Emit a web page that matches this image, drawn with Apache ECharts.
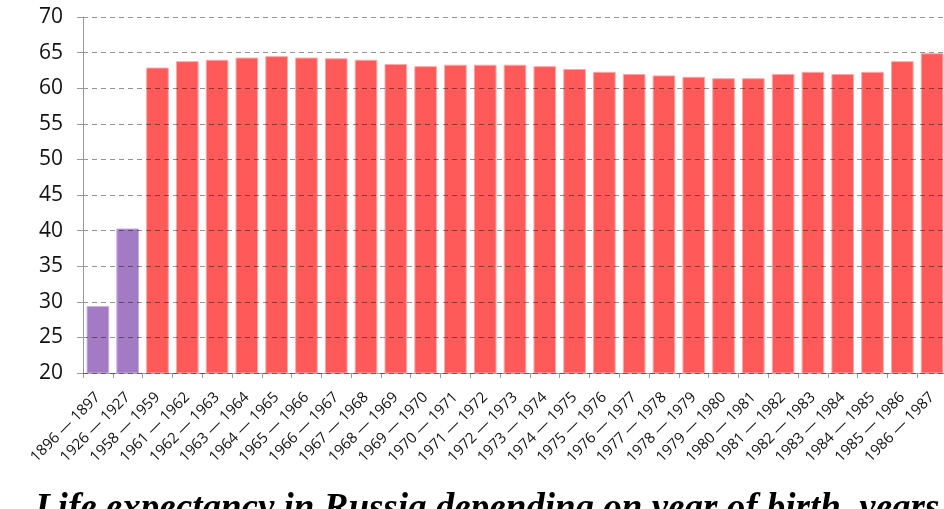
<!DOCTYPE html>
<html>
<head>
<meta charset="utf-8">
<script src="https://cdn.jsdelivr.net/npm/echarts@6/dist/echarts.min.js"></script>
<style>
  html, body { margin: 0; padding: 0; background: #fff; overflow: hidden; }
  #chart { width: 960px; height: 509px; }
</style>
</head>
<body>
<div id="chart"></div>
<script>
var periods = ['1896 — 1897', '1926 — 1927', '1958 — 1959', '1961 — 1962', '1962 — 1963',
    '1963 — 1964', '1964 — 1965', '1965 — 1966', '1966 — 1967', '1967 — 1968',
    '1968 — 1969', '1969 — 1970', '1970 — 1971', '1971 — 1972', '1972 — 1973',
    '1973 — 1974', '1974 — 1975', '1975 — 1976', '1976 — 1977', '1977 — 1978',
    '1978 — 1979', '1979 — 1980', '1980 — 1981', '1981 — 1982', '1982 — 1983',
    '1983 — 1984', '1984 — 1985', '1985 — 1986', '1986 — 1987'];
var lifeYears = [29.4, 40.3, 62.9, 63.8, 64.0,
    64.3, 64.5, 64.3, 64.2, 64.0,
    63.4, 63.1, 63.3, 63.3, 63.3,
    63.1, 62.7, 62.3, 62.0, 61.8,
    61.6, 61.4, 61.4, 62.0, 62.3,
    62.0, 62.3, 63.8, 64.9];
// the two earliest censuses are drawn in purple
var oldPeriods = ['1896 — 1897', '1926 — 1927'];
var yTicks = { min: 20, max: 70, step: 5 };

var barData = [];
for (var i = 0; i < periods.length; i++) {
    var old = oldPeriods.indexOf(periods[i]) >= 0;
    barData.push({
        value: lifeYears[i],
        itemStyle: {
            color: old ? '#a27bc4' : '#ff5a5a',
            borderColor: old ? '#c7aee0' : '#ffa8a8',
            borderWidth: 1
        }
    });
}

var option = {
    animation: false,
    title: {
        text: 'Life expectancy in Russia depending on year of birth, years',
        left: 30,
        top: 486,
        textStyle: {
            fontFamily: 'Liberation Serif',
            fontStyle: 'italic',
            fontWeight: 'bold',
            fontSize: 37,
            color: '#000'
        }
    },
    grid: {
        left: 83,
        right: 13,
        top: 17,
        height: 356
    },
    xAxis: {
        type: 'category',
        data: periods,
        axisLine: { lineStyle: { color: '#999', width: 1 } },
        axisTick: { show: true, length: 5, lineStyle: { color: '#999' } },
        axisLabel: {
            rotate: 45,
            interval: 0,
            margin: 22,
            fontFamily: 'Open Sans',
            fontSize: 15,
            color: '#111'
        }
    },
    yAxis: {
        type: 'value',
        min: yTicks.min,
        max: yTicks.max,
        interval: yTicks.step,
        z: 3,
        axisLine: { show: true, lineStyle: { color: '#999', width: 1 } },
        axisTick: { show: true, length: 6, lineStyle: { color: '#999' } },
        axisLabel: {
            margin: 20,
            fontFamily: 'Open Sans',
            fontSize: 21,
            color: '#111'
        },
        splitLine: {
            show: true,
            lineStyle: { color: 'rgba(0,0,0,0.42)', type: [5, 4], width: 1 }
        }
    },
    series: [{
        type: 'bar',
        data: barData,
        barCategoryGap: '24%'
    }]
};

var myChart = echarts.init(document.getElementById('chart'));
myChart.setOption(option, true);
</script>
</body>
</html>
